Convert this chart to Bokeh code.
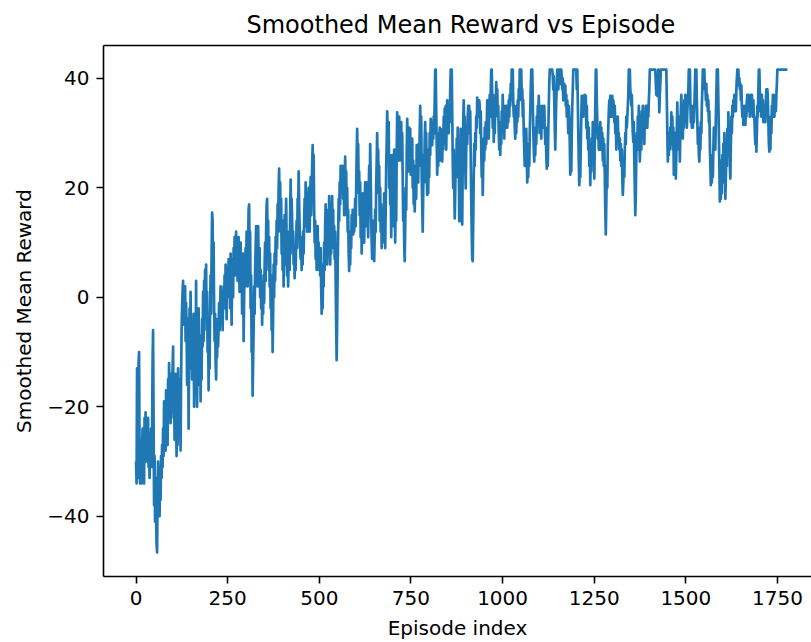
import numpy as np
from bokeh.plotting import figure
from bokeh.models import Range1d, FixedTicker, LinearAxis, ColumnDataSource
from bokeh.embed import file_html
from bokeh.resources import INLINE

# ---------------- data ----------------
TITLE = "Smoothed Mean Reward vs Episode"
X_LABEL = "Episode index"
Y_LABEL = "Smoothed Mean Reward"

LAST_EPISODE = 1777

x_ticks = [0, 250, 500, 750, 1000, 1250, 1500, 1750]
y_ticks = [-40, -20, 0, 20, 40]
y_tick_labels = ["\u221240", "\u221220", "0", "20", "40"]

# smoothed mean reward, sampled evenly along the episode axis
reward_part_a = [
    -30, -34, -13, -31, -33, -12, -10, -29, -34, -33,
    -26, -34, -27, -24, -31, -25, -34, -22, -28, -21,
    -30, -23, -26, -29, -22, -31, -27, -33, -25, -29,
    -24, -31, -25, -12, -6, -22, -38, -29, -41, -33,
    -40, -45, -46.6, -36, -30, -38, -33, -40, -31, -37,
    -29, -33, -27, -31, -24, -29, -19, -25, -22, -28,
    -17, -24, -20, -27, -15, -21, -12, -20, -17, -23,
    -14, -21, -16, -13, -9, -22, -17, -26, -18, -14,
    -22, -29, -20, -27, -13, -20, -25, -15, -20, -28,
    -15, -6, -2, 1, 3, -5, 1, -3, 2, -8,
    -1, -6, -16, -10, -4, -24, -12, -2, -8, 1,
    -13, -5, -15, -6, -11, -3, -20, -9, -4, -14,
]
reward_part_b = [
    3, -14, -20, -6, -12, -2, -10, -16, -7, -19,
    -11, -15, -4, -9, 1, -8, 3, -3, 5, -1,
    6, -6, 1, -10, -4, -17, -8, -13, -2, 4,
    -3, 8, 15.5, 14, 3, 10, -2, -8, -3, -12,
    -15, -7, -11, -4, -9, -5, -1, -6, -3, 2,
    -4, -1, 1, -6, 0, 2, -2, 4, -1, 6,
    2, -4, 5, 0, 3, 7, 1, 5, -2, 8,
    2, -5, 4, 7, 0, 9, 5, 11, 4, 9,
    12, 6, 10, 3, 8, 11, 5, 1, 7, 10,
    4, 8, -3, 2, 8, -8, 0, 6, 2, 9,
    5, 12, 7, 2, 10, 16, 17, 8, 12, -2,
    4, -10, -4, -18, -12, -6, 2, -3, 5, 9,
    13, 6, 10, 2, 13, 7, 4, 9, 0, 5,
    -2, 3,
]
reward_part_c = [
    -5, 2, -3, 4, -1, 6, 10, 3, 12, 17,
    18, 9, 14, 5, 11, 2, 8, -2, 4, -6,
    1, -10, -3, 6, 0, 8, 3, 11, 6, 14,
    9, 17, 12, 20, 23.5, 15, 21, 12, 18, 8,
    14, 5, 11, 2, 9, 15, 6, 13, 18, 10,
    4, 9, 2, 7, 12, 5, 15, 21.5, 14, 18,
    14, 8, 12, 6, 9, 3.5, 8, 5, 10, 14,
    9, 18, 15, 23, 17, 13, 9, 7, 11, 5,
    10, 6, 12, 8, 14, 18, 13, 21, 15, 19,
    12, 17, 14, 20, 16, 12, 18, 22, 15, 20,
    24, 27.8, 21, 26, 16, 10, 14, 7, 11, 5,
    9, 13, 7, 10, 5, 8, 4, 9, 2, -3,
    1, -2, 6, 2, 10, 5, 13, 17, 9, 14,
    6, 11,
]
reward_part_d = [
    16, 10, 18.5, 12, 6, 13, 8, 15, 18.5, 11,
    16, 9, 13, 7, 12, 3, -5, -11.5, -4, 5,
    12, 18, 14, 21, 17, 24, 19, 23, 20, 24,
    18, 22, 15, 21, 25.7, 19, 23, 15, 20, 12,
    16, 8, 4.8, 10, 6, 12, 9, 15, 12, 16,
    11.5, 15, 12, 14, 18, 13, 20, 26, 30.8, 24,
    28, 19, 23, 15, 21, 11, 17, 8, 14, 19,
    12, 16, 10, 17, 21, 15, 19, 13, 21, 16,
    11, 19, 24, 18, 28, 22, 15, 10, 7, 12,
    8, 14, 6.6, 11, 16, 12, 20, 25, 30, 23,
    27, 19, 24, 14, 20, 12, 17, 9, 14, 10,
    16, 12, 19, 14, 9, 16, 24, 28, 34, 30,
    25, 32, 20, 26, 17, 23, 11, 19, 26, 15,
    21, 13,
]
reward_part_e = [
    27, 18, 10, 20, 14, 26, 33.8, 26, 31, 25,
    33, 28, 31, 25, 32, 27, 30, 22, 14, 18,
    10, 6.6, 13, 20, 16, 26, 32.6, 27, 30, 23,
    31, 26, 30.8, 22.4, 27, 24, 29, 20, 25, 17,
    22, 15.7, 20, 24, 18, 27.8, 22, 26, 21, 28,
    24, 30, 35, 28, 33, 22, 17, 12, 19, 26,
    21, 29, 32, 25, 30, 22, 18.7, 24, 19, 27,
    22, 30, 26, 32.6, 28, 31, 27.8, 32, 29, 33,
    30, 36, 41.6, 41.6, 34, 28, 22.4, 27, 24, 30,
    26, 31, 25, 30.8, 27, 29, 24.8, 30, 27, 33,
    28, 34.5, 30, 35, 27, 33, 36, 31, 34, 30,
    35, 32, 38, 41.6, 41.6, 41.6, 34, 25, 20, 27,
    21, 14.4, 19, 26, 22, 29, 24, 31, 22, 27,
    13.9, 18,
]
reward_part_f = [
    24, 30.8, 22, 14, 13.3, 25, 32, 36, 30, 33,
    24, 19.9, 27, 31, 28, 33, 35, 32, 35, 30,
    34, 26, 18, 12, 7, 6.6, 14, 22, 28, 24,
    30, 27, 33, 31, 36.5, 34, 36, 33, 36, 35,
    30, 34, 27, 22, 26, 18.7, 24, 29, 25, 31,
    27, 32, 28, 31.4, 36, 32, 35, 29, 34, 37,
    33, 38, 41.6, 41.6, 36, 31, 37, 28.4, 33, 30,
    36, 34, 39.3, 36, 38, 33, 35, 30, 27, 32,
    26, 30, 28, 34, 31, 37, 32, 35, 29, 34,
    31, 35, 32, 35, 31, 34, 32, 36, 33, 37,
    35, 39, 36, 41.6, 41.6, 41.6, 36, 33, 35, 31,
    29, 33, 30, 35, 32, 36, 33, 38, 36, 41.6,
    41.6, 41.6, 41.6, 36, 38, 33, 36, 30, 27, 24,
    28, 25,
]
reward_part_g = [
    30.8, 26, 21, 25, 22, 28, 24, 30, 34, 38,
    41.6, 41.6, 41.6, 36, 31, 27, 24.8, 29, 26, 31,
    28, 33, 30, 35, 33, 36.8, 32, 35, 30, 33,
    29, 34, 35, 31, 34, 32, 35, 31, 28, 31,
    26, 23.5, 28, 24, 30, 35, 39, 41.6, 41.6, 41.6,
    41.6, 41.6, 41.6, 40.4, 38, 40.4, 36, 31, 27, 32,
    36, 39, 41.6, 41.6, 38, 40, 41.6, 41.6, 41.6, 39,
    41.6, 40, 38, 40, 36, 39, 39, 37, 38.7, 35,
    37, 33, 36, 34, 30, 35, 33, 28, 22.4, 26,
    23, 30, 35, 38, 41.6, 41.6, 41.6, 41.6, 41.6, 41.6,
    41.6, 38, 41.6, 36, 30, 25, 20.5, 24, 22, 28,
    33, 36.8, 34, 36.8, 33, 36, 35, 37, 34, 36.8,
    31, 35, 29, 32, 27, 31, 24, 28, 20.5, 26,
    23, 29,
]
reward_part_h = [
    25, 32, 26, 30, 21.7, 28, 35, 41.6, 41.6, 36,
    32, 29, 31, 27, 30, 28, 32, 27, 31, 28,
    30, 25, 29, 24, 28, 22, 16, 11.5, 17, 24,
    20, 28, 31, 34, 36, 33, 36.8, 35, 36, 33,
    36.8, 34, 36, 35, 32, 35, 30, 33, 27, 31,
    29, 33, 28, 30, 27, 29, 25, 28, 24, 27,
    22, 18.7, 21, 25, 22, 27, 30, 28, 33, 31,
    33, 35, 37, 41.6, 41.6, 41.6, 38, 36.8, 35, 37,
    33, 30, 28.4, 32, 25, 20, 15, 19, 26, 30,
    27, 33, 29, 35, 31, 24.8, 28, 32, 27, 34,
    30, 35, 31, 33, 28, 33, 31, 35, 32, 35,
    31, 34, 33, 36, 38, 41.6, 41.6, 41.6, 41.6, 41.6,
    41.6, 41.6, 41.6, 41.6, 41.6, 41.6, 41.6, 39, 37, 39,
    36.8, 39,
]
reward_part_i = [
    41.6, 38, 33.8, 37, 39, 41.6, 41.6, 41.6, 41.6, 41.6,
    41.6, 41.6, 41.6, 41.6, 41.6, 41.6, 41.6, 36, 30, 24.8,
    28, 26, 30, 27, 31, 28, 33.8, 30, 33, 27,
    31, 22.4, 28, 25, 30, 21.7, 26, 31, 35.6, 30,
    33, 27, 31, 24.8, 30, 34, 37, 33, 35, 29,
    34, 31, 36, 33, 37, 32, 35, 31, 34, 36,
    38, 41.6, 41.6, 41.6, 36, 32, 35, 31, 34, 31,
    35, 32, 35, 38, 41.6, 41.6, 41.6, 36, 32, 28,
    31, 26, 24.8, 29, 27, 32, 30, 35, 38, 41.6,
    41.6, 41.6, 41.6, 38, 39, 36, 39, 35, 37, 34,
    36, 32, 34, 28, 24, 20.5, 24, 21, 26, 22,
    27, 31, 28, 31, 27, 33, 37, 41.6, 41.6, 41.6,
    36, 30, 24, 17.5, 22, 18, 25, 19, 26, 21,
    28, 23,
]
reward_part_j = [
    30, 25, 18, 22, 26, 24, 30.8, 26, 33.8, 27,
    31, 24, 21.7, 28, 33, 30, 35, 33, 36, 34,
    37, 35, 37, 34, 38, 40, 41.6, 39, 41.6, 38.7,
    40, 38, 39, 36, 38.7, 35, 33, 35, 31.5, 34,
    32, 35, 31.5, 34, 33, 36, 37, 35, 37, 34,
    36, 33, 35, 37, 34, 37, 35, 33, 36, 33,
    33, 30, 28, 31, 26.6, 30, 35, 33, 38, 41.6,
    41.6, 37, 34, 36, 33, 37, 34, 36, 32, 35,
    33, 35, 32, 36, 38, 35, 38, 36, 32, 28,
    26.6, 30, 27, 33, 30, 35, 33, 37, 34, 36,
    33, 35, 37, 34, 37, 39, 41.6, 41.6, 41.6, 41.6,
    41.6, 41.6, 41.6, 41.6, 41.6, 41.6, 41.6, 41.6, 41.6, 41.6,
    41.6, 41.6, 41.6, 41.6, 41.6, 41.6,
    41.6,
]

reward = (reward_part_a + reward_part_b + reward_part_c + reward_part_d +
          reward_part_e + reward_part_f + reward_part_g + reward_part_h +
          reward_part_i + reward_part_j)
episodes = np.linspace(0, LAST_EPISODE, len(reward))

# ---------------- figure ----------------
FONT = "DejaVu Sans"
LINE_COLOR = "#1f77b4"

ymin, ymax = min(reward), max(reward)
ypad = 0.05 * (ymax - ymin)
xpad = 0.05 * LAST_EPISODE

p = figure(
    width=811, height=642,
    output_backend="svg", toolbar_location=None,
    x_range=Range1d(-xpad, 1842.8),
    y_range=Range1d(ymin - ypad, ymax + ypad),
    min_border_left=103, min_border_right=0,
    min_border_top=45, min_border_bottom=65,
    title=TITLE,
)
p.background_fill_color = "white"
p.border_fill_color = "white"
p.outline_line_color = None
p.xgrid.visible = False
p.ygrid.visible = False

p.title.text_font = FONT
p.title.text_font_size = "24px"
p.title.text_font_style = "normal"
p.title.text_color = "black"
p.title.align = "left"
p.title.offset = 143
p.title.standoff = 14

src = ColumnDataSource(dict(episode=episodes, reward=reward))
p.line(x="episode", y="reward", source=src, line_color=LINE_COLOR,
       line_width=2.7, line_join="round")

p.xaxis.ticker = FixedTicker(ticks=x_ticks)
p.yaxis.ticker = FixedTicker(ticks=y_ticks)
p.yaxis.major_label_overrides = {t: l for t, l in zip(y_ticks, y_tick_labels)}
p.xaxis.axis_label = X_LABEL
p.yaxis.axis_label = Y_LABEL

for ax in (p.xaxis[0], p.yaxis[0]):
    ax.axis_line_color = "black"
    ax.axis_line_width = 1.6
    ax.major_tick_out = 7
    ax.major_tick_in = 0
    ax.major_tick_line_color = "black"
    ax.major_tick_line_width = 1.6
    ax.minor_tick_line_color = None
    ax.major_label_text_font = FONT
    ax.major_label_text_font_size = "20px"
    ax.major_label_text_color = "black"
    ax.major_label_standoff = 7
    ax.axis_label_text_font = FONT
    ax.axis_label_text_font_size = "20px"
    ax.axis_label_text_font_style = "normal"
    ax.axis_label_text_color = "black"
    ax.axis_label_standoff = 8

# top spine
top = LinearAxis(ticker=FixedTicker(ticks=[]), major_label_text_font_size="0px",
                 major_tick_out=0, major_tick_in=0, minor_tick_line_color=None,
                 axis_line_color="black", axis_line_width=1.6,
                 major_label_standoff=0)
p.add_layout(top, "above")

open("out.html", "w").write(file_html(p, INLINE))
